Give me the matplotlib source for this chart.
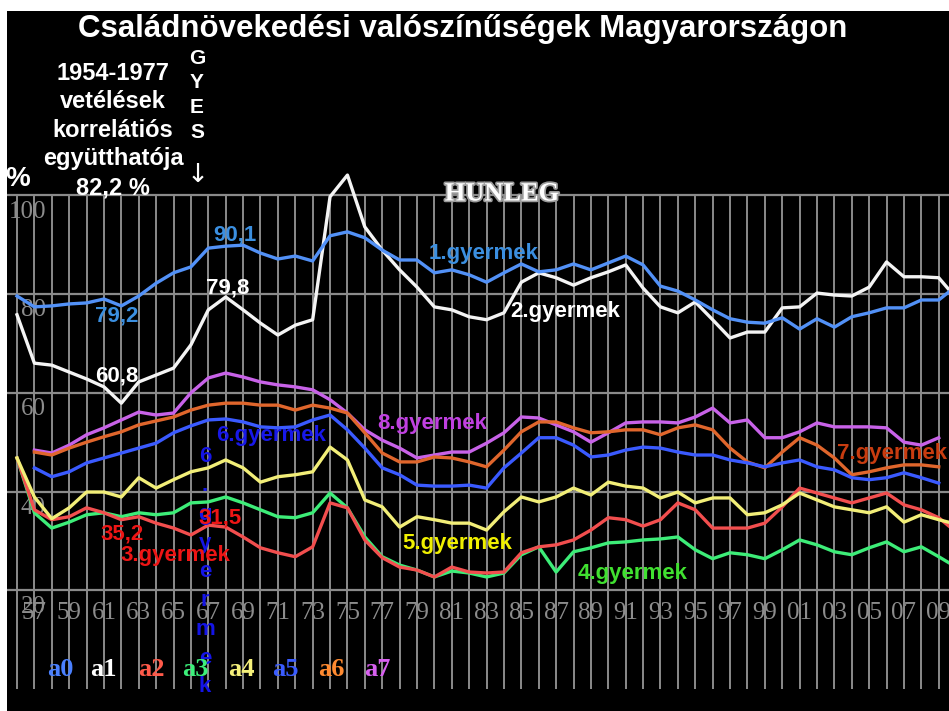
import numpy as np
import matplotlib
matplotlib.use('Agg')
import matplotlib.pyplot as plt
import matplotlib.patheffects as pe

nan = np.nan
years = list(range(1956, 2011))

# valószínűségek (%) gyermek-sorszám szerint
a0 = [79.6, 77.4, 77.6, 78.0, 78.2, 79.0, 77.6, 79.6, 82.2, 84.3,
      85.5, 89.3, 89.7, 89.9, 88.3, 87.1, 87.7, 86.7, 91.8, 92.6,
      91.4, 88.9, 86.9, 86.9, 84.3, 84.9, 83.9, 82.4, 84.3, 86.1,
      84.5, 84.9, 86.1, 84.9, 86.3, 87.7, 85.9, 81.6, 80.6, 78.8,
      76.8, 75.0, 74.3, 74.1, 75.2, 72.9, 75.0, 73.3, 75.4, 76.2,
      77.2, 77.2, 78.8, 78.8, 81.6]
a1 = [75.8, 66.0, 65.6, 64.2, 62.8, 61.2, 57.9, 62.2, 63.6, 65.0,
      69.7, 76.8, 79.4, 76.8, 74.1, 71.7, 73.7, 74.8, 99.7, 104.1,
      93.6, 88.9, 84.9, 81.4, 77.4, 76.8, 75.4, 74.8, 76.2, 82.4,
      84.3, 83.3, 81.8, 83.3, 84.5, 85.9, 81.2, 77.4, 76.2, 78.4,
      74.8, 71.1, 72.3, 72.3, 77.2, 77.4, 80.2, 79.8, 79.6, 81.4,
      86.5, 83.5, 83.5, 83.3, 79.2]
a2 = [46.8, 36.3, 34.3, 34.9, 36.7, 35.7, 34.3, 34.9, 33.6, 32.6,
      31.2, 33.2, 32.8, 30.8, 28.6, 27.6, 26.8, 28.8, 37.7, 36.7,
      30.2, 26.6, 24.7, 24.1, 22.7, 24.7, 23.7, 23.5, 23.7, 27.6,
      28.8, 29.2, 30.2, 32.2, 34.7, 34.3, 33.0, 34.3, 37.7, 36.3,
      32.6, 32.6, 32.6, 33.6, 36.9, 40.7, 39.7, 38.7, 37.7, 38.7,
      39.7, 37.3, 36.3, 34.7, 31.8]
a3 = [46.8, 35.7, 32.6, 33.8, 35.3, 35.7, 34.9, 35.7, 35.3, 35.7,
      37.7, 37.9, 38.9, 37.7, 36.3, 34.9, 34.7, 35.7, 39.7, 36.7,
      30.8, 26.8, 25.1, 24.1, 22.7, 23.9, 23.5, 22.7, 23.5, 27.2,
      28.8, 23.7, 27.8, 28.6, 29.6, 29.8, 30.2, 30.4, 30.8, 28.2,
      26.4, 27.6, 27.2, 26.4, 28.2, 30.2, 29.2, 27.8, 27.2, 28.6,
      29.8, 27.8, 28.8, 26.8, 24.7]
a4 = [46.8, 38.9, 34.5, 36.7, 39.9, 39.9, 38.9, 42.8, 40.7, 42.4,
      44.0, 44.8, 46.4, 44.8, 41.9, 43.0, 43.4, 44.0, 49.0, 46.4,
      38.3, 36.9, 32.8, 34.9, 34.3, 33.6, 33.6, 32.2, 35.9, 38.9,
      37.9, 38.9, 40.7, 39.3, 41.9, 41.1, 40.7, 38.7, 39.9, 37.7,
      38.7, 38.7, 35.3, 35.7, 37.3, 39.7, 38.3, 36.9, 36.3, 35.7,
      36.9, 33.8, 35.3, 34.3, 33.4]
a5 = [nan, 44.8, 43.0, 44.0, 45.8, 46.8, 47.8, 48.8, 49.8, 51.9,
      53.3, 54.5, 54.7, 54.1, 53.1, 52.9, 53.1, 54.5, 55.5, 52.5,
      48.8, 44.8, 43.4, 41.3, 41.1, 41.1, 41.3, 40.7, 44.8, 47.8,
      50.9, 50.9, 49.4, 47.0, 47.4, 48.4, 49.0, 48.8, 48.0, 47.4,
      47.4, 46.4, 45.8, 45.0, 45.8, 46.4, 45.0, 44.4, 42.8, 42.4,
      42.8, 43.8, 42.8, 41.7, nan]
a6 = [nan, 48.0, 47.4, 48.8, 50.0, 51.1, 52.1, 53.5, 54.3, 55.1,
      56.5, 57.5, 57.9, 57.9, 57.5, 57.5, 56.5, 57.5, 56.9, 55.9,
      51.9, 47.8, 46.0, 46.0, 47.0, 46.8, 46.0, 45.0, 48.4, 52.1,
      54.1, 54.1, 52.9, 51.9, 52.1, 52.5, 52.5, 51.5, 52.9, 53.5,
      52.5, 48.8, 46.0, 44.8, 48.0, 50.9, 49.4, 46.8, 43.4, 44.0,
      44.8, 45.4, 45.4, 45.0, nan]
a7 = [nan, 48.4, 47.8, 49.4, 51.5, 52.9, 54.5, 56.1, 55.5, 55.9,
      60.0, 63.0, 64.0, 63.2, 62.2, 61.6, 61.2, 60.6, 58.6, 55.9,
      52.5, 50.4, 48.8, 46.8, 47.4, 48.0, 48.0, 49.8, 51.9, 55.1,
      54.9, 53.5, 52.1, 50.0, 51.9, 53.9, 54.1, 54.1, 53.9, 55.1,
      56.9, 53.9, 54.5, 50.9, 50.9, 52.1, 53.9, 53.1, 53.1, 53.1,
      52.9, 50.0, 49.4, 50.9, nan]

series_names = ['a0', 'a1', 'a2', 'a3', 'a4', 'a5', 'a6', 'a7']
series = [a0, a1, a2, a3, a4, a5, a6, a7]
colors = ['#5291f7', '#f4f4f4', '#f24e4e', '#3ded78', '#f2ee78',
          '#3a5aff', '#e0662c', '#c862e8']
legend_colors = ['#4a80ff', '#ffffff', '#ff5a4a', '#3cf07a', '#f5f07a',
                 '#3a5cff', '#ff8a30', '#d860f0']

ytick_vals = [100, 80, 60, 40, 20]
xtick_years = list(range(1957, 2010, 2))
xtick_labels = ['%02d' % (y % 100) for y in xtick_years]

W, H = 949, 711
fig = plt.figure(figsize=(W / 100, H / 100), dpi=100, facecolor='white')
ax = fig.add_axes([7 / W, 0, (W - 7) / W, (H - 11) / H])
ax.set_facecolor('black')
for s in ax.spines.values():
    s.set_visible(False)
ax.set_xticks([])
ax.set_yticks([])
ax.set_xlim(1955.425, 2009.59)
ax.set_ylim(-4.45, 137.33)

grid_c = '#969696'
ax.vlines(list(range(1956, 2010)), 0, 100, color=grid_c, lw=1.3, zorder=1)
for v in ytick_vals:
    ax.axhline(v, color='#8a8a8a', lw=1.6, zorder=1)

order = [7, 6, 5, 3, 2, 4, 1, 0]
for i in order:
    ax.plot(years, series[i], color=colors[i], lw=2.4, zorder=3,
            solid_joinstyle='round')

serif = 'Liberation Serif'
sans = 'Liberation Sans'
tick_c = '#8c8c8c'
for v in ytick_vals:
    ax.text(0.0414, v - 3.3, str(v), transform=ax.get_yaxis_transform(),
            ha='right', va='center', color=tick_c, fontsize=18,
            family=serif, zorder=2)
for y, lab in zip(xtick_years, xtick_labels):
    ax.text(y, 15.4, lab, ha='center', va='center', color=tick_c,
            fontsize=18, family=serif, zorder=2)


def fpx(x, y):
    return x / W, 1 - y / H


def ftext(x, y, s, va='center', **kw):
    fx, fy = fpx(x, y)
    fig.text(fx, fy, s, ha='center', va=va, **kw)


ftext(463, 37, 'Családnövekedési valószínűségek Magyarországon',
      va='baseline', color='white', fontsize=22.5, weight='bold',
      family=sans)
left_lines = ['1954-1977', 'vetélések', 'korrelátiós', 'együtthatója', '82,2 %']
for j, t in enumerate(left_lines):
    ftext(113, 80 + 28.5 * j, t, va='baseline', color='white', fontsize=17,
          weight='bold', family=sans)
ftext(18, 186, '%', va='baseline', color='white', fontsize=20,
      weight='bold', family=sans)
for j, t in enumerate(['G', 'Y', 'E', 'S']):
    ftext(197, 64 + 24.5 * j, t, va='baseline', color='white', fontsize=15,
          weight='bold', family=sans)
ftext(198, 175, '↓', color='white', fontsize=19, family='DejaVu Sans')
ftext(502, 194, 'HUNLEG', color='white', fontsize=19, weight='bold',
      family=serif,
      path_effects=[pe.withStroke(linewidth=2.5, foreground='#9a9a9a')])

# value labels and series names (data coordinates)
lab_kw = dict(ha='center', va='center', fontsize=16, weight='bold',
              family=sans, zorder=5)
ax.text(1968.5, 92.0, '90,1', color='#3b8fe0', **lab_kw)
ax.text(1968.1, 81.2, '79,8', color='white', **lab_kw)
ax.text(1961.75, 75.6, '79,2', color='#3b8fe0', **lab_kw)
ax.text(1961.75, 63.4, '60,8', color='white', **lab_kw)
ax.text(1982.85, 88.3, '1.gyermek', color='#3b8fe0', **lab_kw)
ax.text(1987.5, 76.4, '2.gyermek', color='white', **lab_kw)
ax.text(1970.6, 51.3, '6.gyermek', color='#1818e8', **lab_kw)
ax.text(1979.86, 53.7, '8.gyermek', color='#c040e0', **lab_kw)
ax.text(2006.3, 47.8, '7.gyermek', color='#c83c10', **lab_kw)
ax.text(1981.3, 29.4, '5.gyermek', color='#f0f000', **lab_kw)
ax.text(1991.4, 23.5, '4.gyermek', color='#40e030', **lab_kw)

# vertical "6.gyermek"
for j, ch in enumerate('6.gyermek'):
    ypx = 457 + 28.75 * j
    ax.text(1966.81, 139.55 - 0.2025 * ypx, ch, color='#1414e6',
            ha='center', va='center', fontsize=16, weight='bold',
            family=sans, zorder=4)

ax.text(1962.04, 31.4, '35,2', color='#ee1515', **lab_kw)
ax.text(1967.67, 34.65, '31,5', color='#ee1515', **lab_kw)
ax.text(1965.09, 26.95, '3.gyermek', color='#ee1515', **lab_kw)

# colour key a0..a7
key_x = [60, 103, 151, 195, 241, 285, 331, 377]
for name, c, x in zip(series_names, legend_colors, key_x):
    ftext(x, 669, name, color=c, fontsize=19, weight='bold', family=serif)

fig.savefig('out.png', dpi=100, facecolor='white')
